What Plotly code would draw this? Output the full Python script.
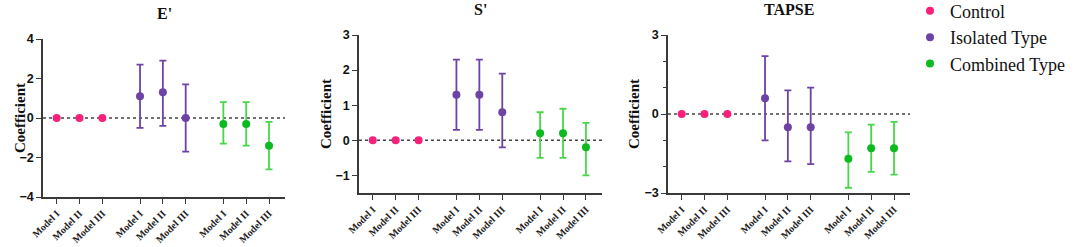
import plotly.graph_objects as go

# ---- data ----
groups = ["Control", "Isolated Type", "Combined Type"]
models = ["Model I", "Model II", "Model III"]
panels = ["E'", "S'", "TAPSE"]

# E'
e_control = [0.0, 0.0, 0.0]
e_isolated = [1.1, 1.3, 0.0]
e_isolated_lo = [-0.5, -0.4, -1.7]
e_isolated_hi = [2.7, 2.9, 1.7]
e_combined = [-0.3, -0.3, -1.4]
e_combined_lo = [-1.3, -1.4, -2.6]
e_combined_hi = [0.8, 0.8, -0.2]

# S'
s_control = [0.0, 0.0, 0.0]
s_isolated = [1.3, 1.3, 0.8]
s_isolated_lo = [0.3, 0.3, -0.2]
s_isolated_hi = [2.3, 2.3, 1.9]
s_combined = [0.2, 0.2, -0.2]
s_combined_lo = [-0.5, -0.5, -1.0]
s_combined_hi = [0.8, 0.9, 0.5]

# TAPSE
t_control = [0.0, 0.0, 0.0]
t_isolated = [0.6, -0.5, -0.5]
t_isolated_lo = [-1.0, -1.8, -1.9]
t_isolated_hi = [2.2, 0.9, 1.0]
t_combined = [-1.7, -1.3, -1.3]
t_combined_lo = [-2.8, -2.2, -2.3]
t_combined_hi = [-0.7, -0.4, -0.3]

y_ranges = [[-4, 4], [-1.5, 3], [-3, 3]]
y_ticks = [[-4, -2, 0, 2, 4], [-1, 0, 1, 2, 3], [-3, 0, 3]]

# ---- styling ----
colors = ["#F7207A", "#6E43A6", "#0DBA20"]
bar_colors = ["#F7207A", "#6E43A6", "#4AD64A"]
group_gap = 3.65

panel_data = [
    [(e_control, None, None), (e_isolated, e_isolated_lo, e_isolated_hi), (e_combined, e_combined_lo, e_combined_hi)],
    [(s_control, None, None), (s_isolated, s_isolated_lo, s_isolated_hi), (s_combined, s_combined_lo, s_combined_hi)],
    [(t_control, None, None), (t_isolated, t_isolated_lo, t_isolated_hi), (t_combined, t_combined_lo, t_combined_hi)],
]

W, H = 1084, 247
x_domains_px = [(43, 285), (359, 602), (668, 910)]
y_domains_px = [(39, 197), (35, 193), (35, 193)]
ytitle_x_px = [20, 326, 634]

fig = go.Figure()

tickvals = [g * group_gap + m for g in range(3) for m in range(3)]
ticktext = models * 3

for p in range(3):
    xa = "x" if p == 0 else f"x{p+1}"
    ya = "y" if p == 0 else f"y{p+1}"
    for g in range(3):
        vals, lo, hi = panel_data[p][g]
        xs = [g * group_gap + m for m in range(3)]
        err = None
        if lo is not None:
            err = dict(type="data", symmetric=False,
                       array=[h - v for h, v in zip(hi, vals)],
                       arrayminus=[v - l for v, l in zip(vals, lo)],
                       color=bar_colors[g], thickness=1.8, width=3.5)
        fig.add_trace(go.Scatter(
            x=xs, y=vals, mode="markers", xaxis=xa, yaxis=ya,
            marker=dict(color=colors[g], size=8),
            error_y=err, name=groups[g], showlegend=(p == 0),
            legendgroup=groups[g]))

    xd = x_domains_px[p]
    yd = y_domains_px[p]
    xkey = "xaxis" if p == 0 else f"xaxis{p+1}"
    ykey = "yaxis" if p == 0 else f"yaxis{p+1}"
    fig.update_layout(**{
        xkey: dict(domain=[xd[0] / W, xd[1] / W], anchor=ya, range=[-0.6, 10.0],
                   tickvals=tickvals, ticktext=[f"<b>{t}</b>" for t in ticktext], tickangle=-45,
                   tickfont=dict(family="Liberation Serif", size=10, color="#222"),
                   showline=True, linecolor="#3a3a3a", linewidth=1.6,
                   ticks="outside", ticklen=5, tickwidth=1.4, tickcolor="#3a3a3a",
                   showgrid=False, zeroline=False, automargin=False),
        ykey: dict(domain=[(H - yd[1]) / H, (H - yd[0]) / H], anchor=xa, range=y_ranges[p],
                   tickvals=y_ticks[p],
                   tickfont=dict(family="Liberation Sans", size=12.5, color="#111", weight="bold"),
                   showline=True, linecolor="#3a3a3a", linewidth=1.6,
                   ticks="outside", ticklen=5, tickwidth=1.4, tickcolor="#3a3a3a",
                   showgrid=False, zeroline=False, automargin=False),
    })
    if p == 2:
        fig.layout[ykey].minor = dict(dtick=1, ticks="outside", ticklen=3, tickwidth=1.2, tickcolor="#3a3a3a")
    # dotted zero line
    fig.add_shape(type="line", xref=f"{xa} domain", yref=ya, x0=0, x1=1, y0=0, y1=0,
                  line=dict(color="#444", width=1.5, dash="dot"), layer="below")
    # panel title
    fig.add_annotation(text=f"<b>{panels[p]}</b>", xref="paper", yref="paper",
                       x=(xd[0] + xd[1]) / 2 / W, y=(H - (yd[0] - 26)) / H,
                       showarrow=False, xanchor="center", yanchor="middle",
                       font=dict(family="Liberation Serif", size=16, color="#111"))
    # y-axis title
    fig.add_annotation(text="<b>Coefficient</b>", xref="paper", yref="paper",
                       x=ytitle_x_px[p] / W, y=(H - (yd[0] + yd[1]) / 2) / H,
                       textangle=-90, showarrow=False, xanchor="center", yanchor="middle",
                       font=dict(family="Liberation Serif", size=15, color="#111"))

fig.update_layout(
    width=W, height=H, margin=dict(l=0, r=0, t=0, b=0, autoexpand=False),
    paper_bgcolor="white", plot_bgcolor="white",
    legend=dict(x=910 / W, y=1.03, xanchor="left", yanchor="top",
                font=dict(family="Liberation Serif", size=18, color="#111"),
                bgcolor="rgba(0,0,0,0)", tracegroupgap=0, itemwidth=30),
)

fig.write_html("out.html", config={"displayModeBar": False},
               post_script="document.body.style.margin='0';document.body.style.overflow='hidden';")
